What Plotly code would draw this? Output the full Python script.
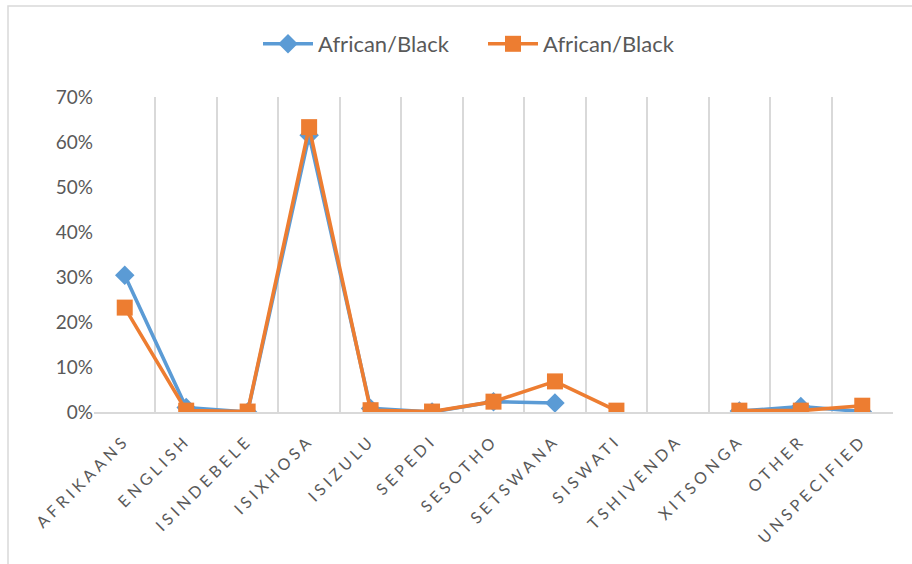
import plotly.graph_objects as go

categories = ["AFRIKAANS", "ENGLISH", "ISINDEBELE", "ISIXHOSA", "ISIZULU", "SEPEDI",
              "SESOTHO", "SETSWANA", "SISWATI", "TSHIVENDA", "XITSONGA", "OTHER", "UNSPECIFIED"]
series1_name = "African/Black"
series1 = [0.304, 0.010, 0.000, 0.615, 0.008, 0.000, 0.023, 0.020, None, None, 0.002, 0.012, 0.001]
series2_name = "African/Black"
series2 = [0.232, 0.003, 0.001, 0.633, 0.004, 0.001, 0.023, 0.068, 0.003, None, 0.003, 0.003, 0.014]
y_ticks = [0, 0.1, 0.2, 0.3, 0.4, 0.5, 0.6, 0.7]

x_idx = list(range(len(categories)))
bounds = [i - 0.5 for i in range(len(categories) + 1)]

FONT = "Lato, 'Open Sans', sans-serif"
GREY = "#595959"

fig = go.Figure()
fig.add_trace(go.Scatter(
    x=x_idx, y=series1, name=series1_name, mode="lines+markers",
    line=dict(color="#5B9BD5", width=3.6),
    marker=dict(symbol="diamond", size=15, color="#5B9BD5"),
    connectgaps=False,
))
fig.add_trace(go.Scatter(
    x=x_idx, y=series2, name=series2_name, mode="lines+markers",
    line=dict(color="#ED7D31", width=3.6),
    marker=dict(symbol="square", size=16, color="#ED7D31"),
    connectgaps=False,
))

fig.update_layout(
    width=912, height=564,
    margin=dict(l=94, r=19, t=97, b=152),
    paper_bgcolor="white", plot_bgcolor="white",
    font=dict(family=FONT, color=GREY),
    showlegend=True,
    legend=dict(orientation="h", x=(258 - 94) / 799, xanchor="left", y=1.0 + (97 - 44) / 315, yanchor="middle",
                font=dict(size=22, color=GREY), traceorder="normal", itemwidth=50,
                entrywidth=160, entrywidthmode="pixels"),
    xaxis=dict(
        range=[-0.5, len(categories) - 0.5],
        tickmode="array", tickvals=x_idx, ticktext=categories,
        tickangle=-45, tickfont=dict(size=16, color=GREY),
        ticklabelstandoff=11,
        showgrid=False, zeroline=False,
        showline=True, linecolor="#d9d9d9", linewidth=1.5,
        ticks="",
        minor=dict(tickvals=bounds, showgrid=True, gridcolor="#d9d9d9", gridwidth=1.5, ticks=""),
    ),
    yaxis=dict(
        range=[0, 0.7], tickmode="array", tickvals=y_ticks, tickformat=".0%",
        tickfont=dict(size=19, color=GREY),
        showgrid=False, zeroline=False, showline=False, ticks="", ticklen=0,
    ),
    shapes=[dict(type="rect", xref="paper", yref="paper",
                 x0=(8 - 94) / 799, x1=1.2, y0=-0.6, y1=1 + (97 - 6) / 315,
                 line=dict(color="#d9d9d9", width=1.5), fillcolor="rgba(0,0,0,0)", layer="below")],
)

post = """
var gd = document.getElementById('{plot_id}');
function spaceTicks(){
  gd.querySelectorAll('.xtick text').forEach(function(t){ t.style.letterSpacing = '4px'; });
}
spaceTicks();
gd.on('plotly_afterplot', spaceTicks);
"""

fig.write_html("out.html", post_script=post)
